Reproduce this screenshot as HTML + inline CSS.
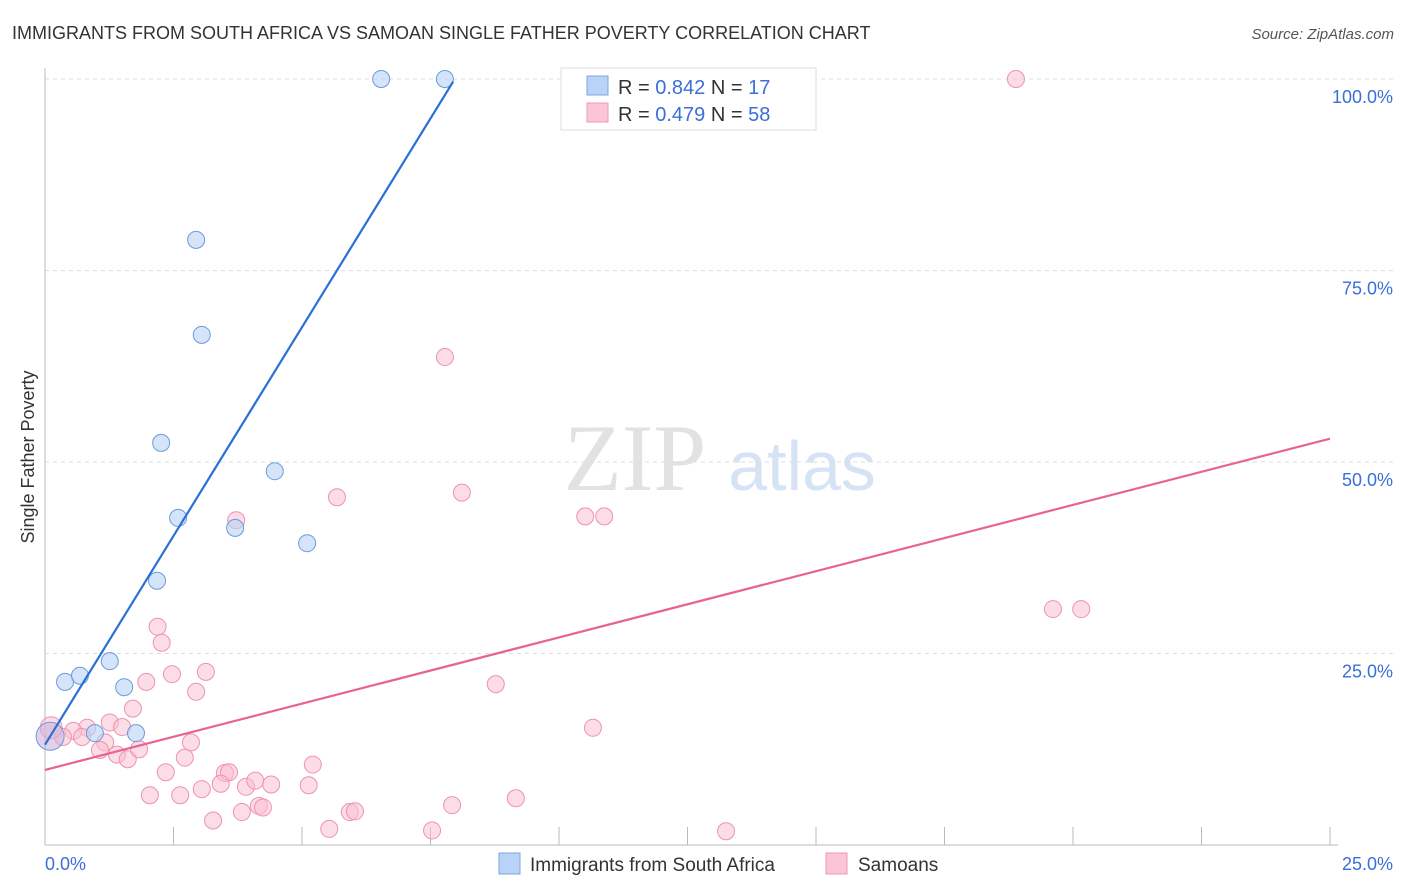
<!DOCTYPE html>
<html><head><meta charset="utf-8"><style>
body{margin:0;background:#fff;font-family:"Liberation Sans",sans-serif;}
svg{display:block}
</style></head><body>
<svg id="chart" width="1406" height="892" xmlns="http://www.w3.org/2000/svg">
<text x="12" y="39" font-size="18" fill="#333">IMMIGRANTS FROM SOUTH AFRICA VS SAMOAN SINGLE FATHER POVERTY CORRELATION CHART</text>
<text x="1394" y="39" font-size="15" fill="#555" text-anchor="end" font-style="italic">Source: ZipAtlas.com</text>
<text transform="translate(34,457) rotate(-90)" font-size="18" fill="#333" text-anchor="middle">Single Father Poverty</text>
<g>
<text x="635" y="490" font-size="95" font-family="Liberation Serif,serif" fill="#e2e2e2" text-anchor="middle">ZIP</text>
<text x="802" y="490" font-size="70" fill="#d6e3f5" text-anchor="middle">atlas</text>
</g>
<g id="grid"></g>
<g id="axes"></g>
<g id="points"></g>
<g id="lines"></g>
<g>
<rect x="561" y="68" width="255" height="62" fill="#fff" stroke="#ddd"/>
<rect x="587" y="76" width="21" height="19" fill="#b8d3f5" stroke="#7ba4df"/>
<rect x="587" y="103" width="21" height="19" fill="#fac5d5" stroke="#ee9ab4"/>
<text x="618" y="94" font-size="20" fill="#333">R = <tspan fill="#3a6fd8">0.842</tspan>   N =  <tspan fill="#3a6fd8">17</tspan></text>
<text x="618" y="121" font-size="20" fill="#333">R = <tspan fill="#3a6fd8">0.479</tspan>   N = <tspan fill="#3a6fd8">58</tspan></text>
</g>
<g>
<rect x="499" y="853" width="21" height="21" fill="#b8d3f5" stroke="#7ba4df"/>
<text x="530" y="871" font-size="19" fill="#333">Immigrants from South Africa</text>
<rect x="826" y="853" width="21" height="21" fill="#fac5d5" stroke="#ee9ab4"/>
<text x="858" y="871" font-size="19" fill="#333">Samoans</text>
</g>
</svg>
<script>
const yTicks=[25,50,75,100];
const yTickLabels=["25.0%","50.0%","75.0%","100.0%"];
const xTickLabels=["0.0%","25.0%"];
const blueX=[6.54,7.78,2.94,3.05,2.26,4.47,2.59,3.70,5.10,2.18,1.26,0.39,0.68,1.54,0.97,1.77,0.10];
const blueY=[100,100,79.0,66.6,52.5,48.8,42.7,41.4,39.4,34.5,24.0,21.3,22.1,20.6,14.6,14.6,14.2];
const pinkX=[2.19,2.27,2.47,3.13,1.97,2.94,1.71,1.26,1.50,0.82,0.55,0.72,0.35,1.17,1.07,1.40,1.61,1.83,2.84,2.72,2.35,3.50,3.58,3.42,3.91,4.09,4.40,5.21,5.13,2.04,2.63,3.05,3.27,3.83,4.16,4.24,5.53,5.93,0.12,18.89,7.78,8.11,5.68,3.72,10.51,10.88,19.61,20.16,8.77,10.66,9.16,7.92,6.03,7.53,13.25];
const pinkY=[28.5,26.4,22.3,22.6,21.3,20.0,17.8,16.0,15.4,15.3,14.9,14.1,14.1,13.4,12.4,11.8,11.2,12.5,13.4,11.4,9.5,9.4,9.5,8.0,7.6,8.4,7.9,10.5,7.8,6.5,6.5,7.3,3.2,4.3,5.1,4.9,2.1,4.3,15.3,100,63.7,46.0,45.4,42.4,42.9,42.9,30.8,30.8,21.0,15.3,6.1,5.2,4.4,1.9,1.8];
const blueLine=[13.1,10.9];  // intercept, slope (% per %)
const pinkLine=[9.8,1.73];
const X=v=>45+v/25*1285, Y=v=>845-v/100*766;
const NS="http://www.w3.org/2000/svg";
function mk(p,t,a){const e=document.createElementNS(NS,t);for(const k in a)e.setAttribute(k,a[k]);p.appendChild(e);return e;}
const grid=document.getElementById('grid'),axes=document.getElementById('axes'),pts=document.getElementById('points'),lines=document.getElementById('lines');
yTicks.forEach((t,i)=>{
 const l=mk(grid,'line',{x1:45,x2:1394,y1:Y(t),y2:Y(t),stroke:'#ddd','stroke-dasharray':'4,4'});
 
 
 const tx=mk(grid,'text',{x:1393,y:Y(t)+24,'font-size':18,fill:'#3a6fd8','text-anchor':'end'});
 tx.textContent=yTickLabels[i];
 
 
});
mk(axes,'line',{x1:45,x2:45,y1:68,y2:845,stroke:'#bbb'});
mk(axes,'line',{x1:45,x2:1338,y1:845,y2:845,stroke:'#bbb'});
for(let i=1;i<=10;i++){const x=X(i*2.5);mk(axes,'line',{x1:x,x2:x,y1:827,y2:845,stroke:'#bbb'});}
const xl0=mk(axes,'text',{x:45,y:870,'font-size':18,fill:'#3a6fd8'});xl0.textContent=xTickLabels[0];


const xl1=mk(axes,'text',{x:1393,y:870,'font-size':18,fill:'#3a6fd8','text-anchor':'end'});xl1.textContent=xTickLabels[1];


pinkX.forEach((x,i)=>{
 const r=(i===38)?11:8.5;
 const c=mk(pts,'circle',{cx:X(x),cy:Y(pinkY[i]),r:r,fill:'#f9c0d1','fill-opacity':0.55,stroke:'#ee93b0','stroke-width':1});
 
 
});
blueX.forEach((x,i)=>{
 const r=(i===16)?14:8.5;
 const c=mk(pts,'circle',{cx:X(x),cy:Y(blueY[i]),r:r,fill:i===16?'#c9b4dc':'#b8d3f5','fill-opacity':0.6,stroke:'#6d9ad8','stroke-width':1});
 
 
});
const bx2=7.94;
const bl=mk(lines,'line',{x1:X(0),y1:Y(blueLine[0]),x2:X(bx2),y2:Y(blueLine[0]+blueLine[1]*bx2),stroke:'#2a6fd6','stroke-width':2.2});


const pl=mk(lines,'line',{x1:X(0),y1:Y(pinkLine[0]),x2:X(25),y2:Y(pinkLine[0]+pinkLine[1]*25),stroke:'#e8638e','stroke-width':2.2});


</script>
</body></html>
